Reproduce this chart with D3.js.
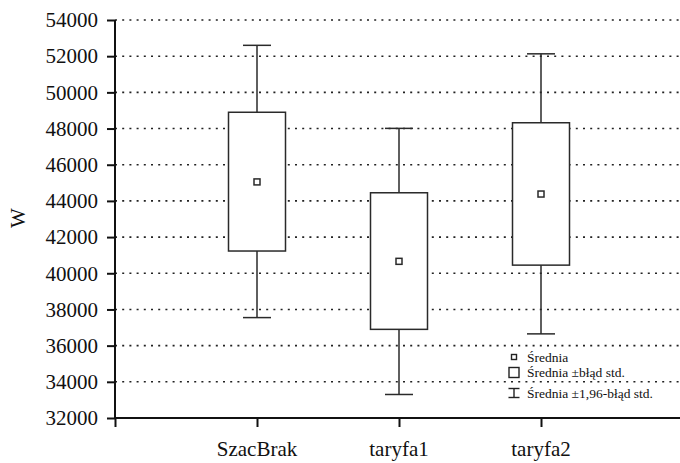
<!DOCTYPE html>
<html>
<head>
<meta charset="utf-8">
<script src="https://cdn.jsdelivr.net/npm/d3@7"></script>
<style>
  html, body { margin: 0; padding: 0; background: #fff; }
  svg { display: block; }
  text { font-family: "Liberation Serif", "Times New Roman", serif; fill: #111; }
</style>
</head>
<body>
<svg id="chart" width="680" height="463"></svg>
<script>
// ---- data ----
const categories = ["SzacBrak", "taryfa1", "taryfa2"];
const means       = [45050, 40660, 44380];
const boxLow      = [41230, 36900, 40450];   // mean - SE
const boxHigh     = [48900, 44450, 48320];   // mean + SE
const whiskerLow  = [37550, 33300, 36650];   // mean - 1.96 SE
const whiskerHigh = [52600, 48010, 52130];   // mean + 1.96 SE
const yTicks = [32000, 34000, 36000, 38000, 40000, 42000, 44000, 46000, 48000, 50000, 52000, 54000];
const yLabel = "W";
const legendLabels = ["Średnia", "Średnia ±błąd std.", "Średnia ±1,96-błąd std."];

// ---- layout ----
const svg = d3.select("#chart");
const x = d3.scaleLinear().domain([0, 4]).range([115, 683]);
const y = d3.scaleLinear().domain([32000, 54000]).range([418, 20]);
const boxW = 57, capW = 28, meanSize = 6;

// gridlines (dotted)
svg.append("g").selectAll("line")
  .data(yTicks.slice(1))
  .join("line")
  .attr("x1", x(0)).attr("x2", 680)
  .attr("y1", d => y(d)).attr("y2", d => y(d))
  .attr("stroke", "#222").attr("stroke-width", 1.6)
  .attr("stroke-dasharray", "2,5.2");

// y axis
const yAxis = svg.append("g")
  .attr("transform", `translate(${x(0)},0)`)
  .call(d3.axisLeft(y).tickValues(yTicks).tickSize(8).tickPadding(9).tickFormat(d3.format("d")));
yAxis.select(".domain").attr("stroke", "#111").attr("stroke-width", 2).attr("d", `M0,${y(54000)}V${y(32000)}`);
yAxis.selectAll(".tick line").attr("stroke", "#111").attr("stroke-width", 2);
yAxis.selectAll(".tick text").attr("font-size", 21).attr("font-family", "Liberation Serif").attr("fill", "#111");

// x axis
const xAxis = svg.append("g")
  .attr("transform", `translate(0,${y(32000)})`)
  .call(d3.axisBottom(x).tickValues([0, 1, 2, 3]).tickSize(9).tickFormat(""));
xAxis.select(".domain").attr("stroke", "#111").attr("stroke-width", 2).attr("d", `M${x(0)},0H680`);
xAxis.selectAll(".tick line").attr("stroke", "#111").attr("stroke-width", 2);

svg.append("g").selectAll("text")
  .data(categories)
  .join("text")
  .attr("x", (d, i) => x(i + 1))
  .attr("y", 456)
  .attr("text-anchor", "middle")
  .attr("font-size", 21)
  .text(d => d);

// y label
svg.append("text")
  .attr("transform", "translate(25,218) rotate(-90)")
  .attr("text-anchor", "middle")
  .attr("font-size", 21)
  .text(yLabel);

// boxes
const g = svg.append("g");
categories.forEach((c, i) => {
  const cx = x(i + 1);
  const st = "#2a2a2a";
  g.append("line").attr("x1", cx).attr("x2", cx)
    .attr("y1", y(whiskerHigh[i])).attr("y2", y(whiskerLow[i]))
    .attr("stroke", st).attr("stroke-width", 1.5);
  [whiskerHigh[i], whiskerLow[i]].forEach(v => {
    g.append("line").attr("x1", cx - capW / 2).attr("x2", cx + capW / 2)
      .attr("y1", y(v)).attr("y2", y(v))
      .attr("stroke", st).attr("stroke-width", 1.5);
  });
  g.append("rect")
    .attr("x", cx - boxW / 2).attr("width", boxW)
    .attr("y", y(boxHigh[i])).attr("height", y(boxLow[i]) - y(boxHigh[i]))
    .attr("fill", "#fff").attr("stroke", st).attr("stroke-width", 1.5);
  g.append("rect")
    .attr("x", cx - meanSize / 2).attr("y", y(means[i]) - meanSize / 2)
    .attr("width", meanSize).attr("height", meanSize)
    .attr("fill", "#fff").attr("stroke", st).attr("stroke-width", 1.5);
});

// legend
const lg = svg.append("g");
const lx = 514;
const rows = [357, 372.5, 393];
lg.append("rect").attr("x", lx - 2.5).attr("y", rows[0] - 2.5).attr("width", 5).attr("height", 5)
  .attr("fill", "#fff").attr("stroke", "#222").attr("stroke-width", 1.4);
lg.append("rect").attr("x", lx - 5).attr("y", rows[1] - 5).attr("width", 10).attr("height", 10)
  .attr("fill", "#fff").attr("stroke", "#222").attr("stroke-width", 1.4);
lg.append("line").attr("x1", lx).attr("x2", lx).attr("y1", rows[2] - 4.5).attr("y2", rows[2] + 4.5)
  .attr("stroke", "#222").attr("stroke-width", 1.4);
[rows[2] - 4.5, rows[2] + 4.5].forEach(v => {
  lg.append("line").attr("x1", lx - 5.5).attr("x2", lx + 5.5).attr("y1", v).attr("y2", v)
    .attr("stroke", "#222").attr("stroke-width", 1.4);
});
lg.selectAll("text.leg")
  .data(legendLabels)
  .join("text")
  .attr("class", "leg")
  .attr("x", 527)
  .attr("y", (d, i) => rows[i] + 4.5)
  .attr("font-size", 13.5)
  .text(d => d);
</script>
</body>
</html>
